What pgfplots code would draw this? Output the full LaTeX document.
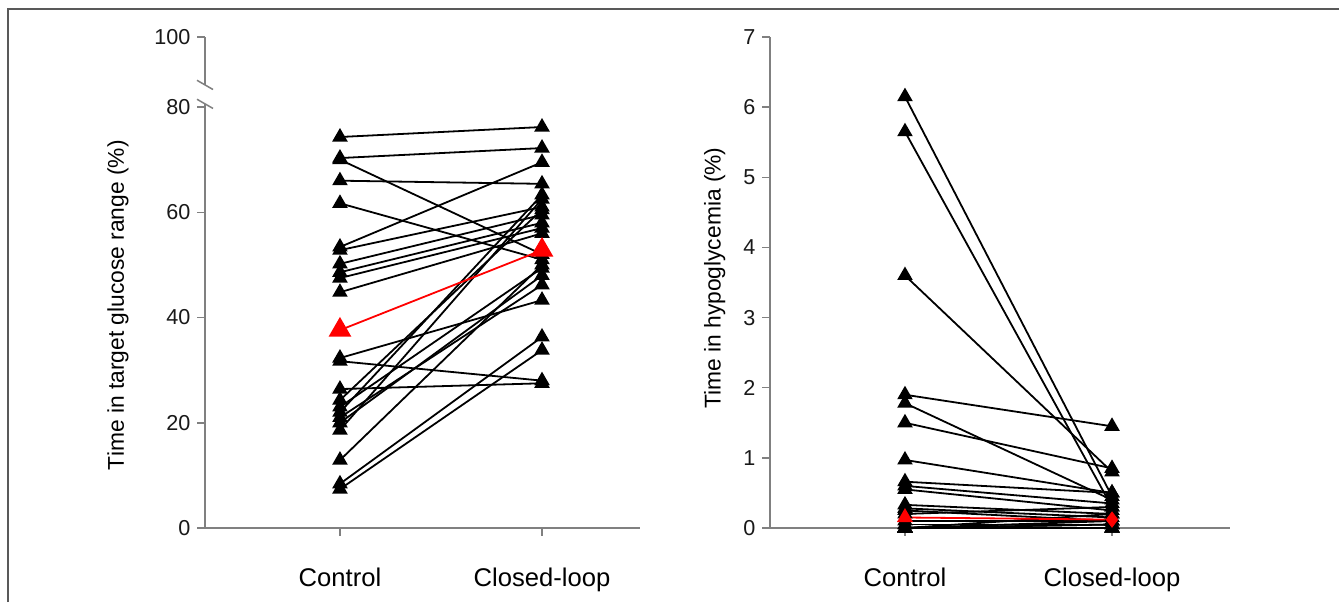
\documentclass[border=0pt]{standalone}
\usepackage{fontspec}
\setmainfont{Liberation Sans}
\usepackage{pgfplots}
\pgfplotsset{compat=1.18}
\pgfplotsset{
  pair/.style={black, line width=0.9pt, mark=triangle*, mark size=3.6pt, mark options={solid, fill=black}},
  mean/.style={red, line width=0.9pt, mark=triangle*, mark size=5.7pt, mark options={solid, fill=red}},
  base/.style={
    scale only axis, clip=false,
    axis x line*=bottom, axis y line*=left,
    axis line style={black!50, line width=0.75pt},
    tick style={black!50, line width=0.75pt},
    tick align=outside, major tick length=3.8pt,
    xtick={1,2}, xticklabels={Control,Closed-loop},
    ticklabel style={font=\fontsize{10.8}{12}\selectfont, text=black!90},
    xticklabel style={font=\fontsize{12.8}{15}\selectfont, text=black, anchor=base, yshift=-25.5pt},
    ylabel style={font=\fontsize{11.4}{13}\selectfont, text=black, anchor=center},
    /pgf/number format/assume math mode=true,
    minor tick num=0,
  }
}
\begin{document}
\begin{tikzpicture}
\useasboundingbox (0,0) rectangle (669.5pt,301pt);
\fill[white] (0,0) rectangle (669.5pt,301pt);
\draw[black!65, line width=0.8pt] (4pt,0) -- (4pt,296.5pt) -- (669.5pt,296.5pt);
% left panel
\begin{axis}[base, at={(102.5pt,37pt)}, anchor=origin,
  width=217.5pt, height=245.5pt,
  xmin=0.332, xmax=2.485, ymin=0, ymax=93.3,
  ytick={0,20,40,60,80,93.3}, yticklabels={0,20,40,60,80,100},
  y axis line style={draw=none},
  ylabel={Time in target glucose range (\%)},
  ylabel style={at={(axis description cs:-0.2,0.454)}},
]
\draw[black!50, line width=0.75pt] (axis cs:0.332,0) -- (axis cs:0.332,80.6);
\draw[black!50, line width=0.75pt] (axis cs:0.332,84.2) -- (axis cs:0.332,93.3);
\draw[black!50, line width=0.75pt] ([xshift=-4pt,yshift=2.3pt]axis cs:0.332,80.6) -- ([xshift=4pt,yshift=-2.3pt]axis cs:0.332,80.6);
\draw[black!50, line width=0.75pt] ([xshift=-4pt,yshift=2.3pt]axis cs:0.332,84.2) -- ([xshift=4pt,yshift=-2.3pt]axis cs:0.332,84.2);
\addplot[pair] coordinates {(1,74.3) (2,76.2)};
\addplot[pair] coordinates {(1,70.3) (2,72.2)};
\addplot[pair] coordinates {(1,70.0) (2,52.0)};
\addplot[pair] coordinates {(1,66.0) (2,65.4)};
\addplot[pair] coordinates {(1,61.7) (2,51.0)};
\addplot[pair] coordinates {(1,53.4) (2,69.5)};
\addplot[pair] coordinates {(1,52.8) (2,61.0)};
\addplot[pair] coordinates {(1,50.2) (2,59.5)};
\addplot[pair] coordinates {(1,48.6) (2,58.0)};
\addplot[pair] coordinates {(1,47.5) (2,57.0)};
\addplot[pair] coordinates {(1,44.8) (2,56.0)};
\addplot[pair] coordinates {(1,32.3) (2,43.3)};
\addplot[pair] coordinates {(1,31.7) (2,28.0)};
\addplot[pair] coordinates {(1,26.4) (2,27.5)};
\addplot[pair] coordinates {(1,24.3) (2,60.5)};
\addplot[pair] coordinates {(1,23.0) (2,49.4)};
\addplot[pair] coordinates {(1,22.0) (2,63.3)};
\addplot[pair] coordinates {(1,21.0) (2,46.2)};
\addplot[pair] coordinates {(1,20.0) (2,48.0)};
\addplot[pair] coordinates {(1,18.6) (2,62.5)};
\addplot[pair] coordinates {(1,12.9) (2,50.0)};
\addplot[pair] coordinates {(1,8.4) (2,36.3)};
\addplot[pair] coordinates {(1,7.4) (2,33.8)};
\addplot[mean] coordinates {(1,37.6) (2,52.8)};
\end{axis}
% right panel
\begin{axis}[base, at={(385pt,37pt)}, anchor=origin,
  width=230pt, height=245.5pt,
  xmin=0.348, xmax=2.57, ymin=0, ymax=7,
  ytick={0,1,2,3,4,5,6,7},
  ylabel={Time in hypoglycemia (\%)},
  ylabel style={at={(axis description cs:-0.12,0.509)}},
]
\addplot[pair] coordinates {(1,6.15) (2,0.45)};
\addplot[pair] coordinates {(1,5.65) (2,0.30)};
\addplot[pair] coordinates {(1,3.60) (2,0.80)};
\addplot[pair] coordinates {(1,1.90) (2,1.45)};
\addplot[pair] coordinates {(1,1.78) (2,0.40)};
\addplot[pair] coordinates {(1,1.50) (2,0.85)};
\addplot[pair] coordinates {(1,0.97) (2,0.50)};
\addplot[pair] coordinates {(1,0.66) (2,0.50)};
\addplot[pair] coordinates {(1,0.60) (2,0.35)};
\addplot[pair] coordinates {(1,0.55) (2,0.25)};
\addplot[pair] coordinates {(1,0.33) (2,0.20)};
\addplot[pair] coordinates {(1,0.28) (2,0.15)};
\addplot[pair] coordinates {(1,0.25) (2,0.10)};
\addplot[pair] coordinates {(1,0.20) (2,0.30)};
\addplot[pair] coordinates {(1,0.10) (2,0.10)};
\addplot[pair] coordinates {(1,0.05) (2,0.05)};
\addplot[pair] coordinates {(1,0) (2,0.20)};
\addplot[pair] coordinates {(1,0) (2,0.10)};
\addplot[pair] coordinates {(1,0) (2,0.05)};
\addplot[pair] coordinates {(1,0) (2,0.05)};
\addplot[pair] coordinates {(1,0) (2,0)};
\addplot[pair] coordinates {(1,0) (2,0)};
\addplot[pair] coordinates {(1,0) (2,0)};
\addplot[red, line width=0.9pt, mark=triangle*, mark size=3.8pt, mark options={solid, fill=red}] coordinates {(1,0.15)};
\addplot[red, line width=0.9pt] coordinates {(1,0.15) (2,0.12)};
\addplot[red, only marks, mark=diamond*, mark size=3.8pt, mark options={solid, fill=red}] coordinates {(2,0.12)};
\end{axis}
\end{tikzpicture}
\end{document}
